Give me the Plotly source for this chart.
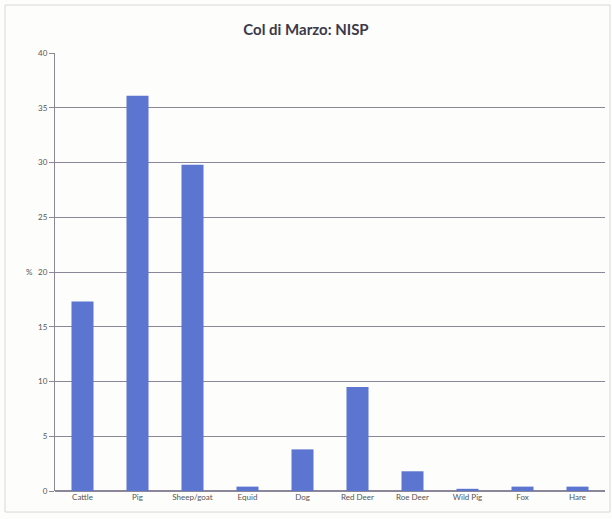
import plotly.graph_objects as go

categories = ["Cattle", "Pig", "Sheep/goat", "Equid", "Dog", "Red Deer",
              "Roe Deer", "Wild Pig", "Fox", "Hare"]
nisp_pct = [17.3, 36.1, 29.8, 0.4, 3.8, 9.5, 1.8, 0.2, 0.4, 0.4]
y_ticks = [0, 5, 10, 15, 20, 25, 30, 35, 40]

W, H = 612, 519
L, R, T, B = 55, 7, 53, 28
pw, ph = W - L - R, H - T - B

def px_x(x):
    return (x - L) / pw

def px_y(y):
    return (H - B - y) / ph

grid = "#8c8699"

fig = go.Figure(go.Bar(
    x=categories, y=nisp_pct,
    marker=dict(color="#5b75d0", line=dict(width=0)),
))

fig.update_layout(
    width=W, height=H,
    margin=dict(l=L, r=R, t=T, b=B),
    paper_bgcolor="#fdfdfb", plot_bgcolor="#fdfdfb",
    bargap=0.6,
    showlegend=False,
    font=dict(family="Lato, Open Sans, sans-serif", color="#555555", size=8),
    title=dict(text="<b>Col di Marzo: NISP</b>", x=0.5, xanchor="center",
               y=1 - 30 / H, yanchor="middle",
               font=dict(size=15, color="#3a3a4a", family="Lato, Open Sans, sans-serif")),
    xaxis=dict(showline=False, ticks="", tickfont=dict(size=8), fixedrange=True),
    yaxis=dict(range=[0, 40], tickvals=y_ticks, showgrid=True, gridcolor=grid,
               gridwidth=1, showline=True, linecolor=grid, linewidth=1,
               ticks="outside", ticklen=5, tickcolor=grid,
               tickfont=dict(size=8), zeroline=True, zerolinecolor=grid),
    shapes=[dict(type="rect", xref="paper", yref="paper",
                 x0=px_x(5), x1=px_x(610), y0=px_y(512), y1=px_y(5),
                 line=dict(color="#d8d8d8", width=1), layer="below")],
    annotations=[dict(text="%", xref="paper", yref="y", x=px_x(29), y=20,
                      xanchor="center", showarrow=False,
                      font=dict(size=8, color="#555555"))],
)

fig.write_html("out.html")
